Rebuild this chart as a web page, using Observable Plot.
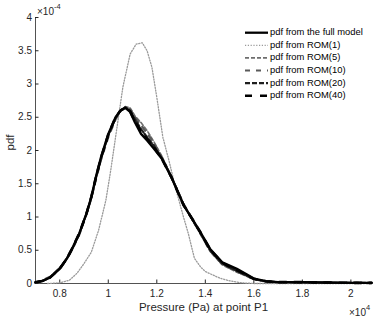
<!DOCTYPE html>
<html><head><meta charset="utf-8">
<script src="https://cdn.jsdelivr.net/npm/d3@7"></script>
<script src="https://cdn.jsdelivr.net/npm/@observablehq/plot@0.6"></script>
<style>body{margin:0;background:#fff}svg{font-family:"Liberation Sans",Arial,sans-serif}</style>
</head><body><div id="chart"></div>
<script>
const xTicks = [0.8, 1.0, 1.2, 1.4, 1.6, 1.8, 2.0];
const yTicks = [0, 0.5, 1, 1.5, 2, 2.5, 3, 3.5, 4];
const seriesNames = ["pdf from the full model","pdf from ROM(1)","pdf from ROM(5)","pdf from ROM(10)","pdf from ROM(20)","pdf from ROM(40)"];
const fullModel = [[0.70,0.02],[0.73,0.04],[0.76,0.09],[0.80,0.22],[0.83,0.38],[0.85,0.52],[0.88,0.75],[0.91,1.05],[0.93,1.3],[0.95,1.62],[0.97,1.9],[1.0,2.25],[1.03,2.5],[1.05,2.6],[1.07,2.64],[1.09,2.58],[1.11,2.42],[1.135,2.25],[1.16,2.15],[1.19,2.02],[1.22,1.88],[1.26,1.6],[1.31,1.18],[1.35,0.95],[1.38,0.77],[1.42,0.52],[1.47,0.32],[1.53,0.22],[1.57,0.14],[1.60,0.075],[1.65,0.035],[1.7,0.02],[1.8,0.02],[1.9,0.015],[2.0,0.01],[2.085,0.01]];
const rom1 = [[0.75,0],[0.80,0.01],[0.84,0.05],[0.87,0.15],[0.90,0.3],[0.93,0.47],[0.96,0.8],[0.99,1.25],[1.01,1.7],[1.03,2.2],[1.06,2.95],[1.09,3.45],[1.115,3.6],[1.14,3.62],[1.16,3.5],[1.18,3.25],[1.20,2.8],[1.225,2.2],[1.25,1.85],[1.28,1.4],[1.31,1.0],[1.33,0.75],[1.355,0.38],[1.38,0.25],[1.40,0.18],[1.43,0.13],[1.46,0.08],[1.5,0.04],[1.55,0.01],[1.6,0.0],[1.8,0.0],[2.085,0.0]];
const rom5 = [[0.70,0.01],[0.73,0.04],[0.76,0.1],[0.80,0.24],[0.83,0.38],[0.85,0.5],[0.88,0.74],[0.91,1.05],[0.93,1.3],[0.95,1.6],[0.97,1.88],[1.0,2.22],[1.03,2.48],[1.05,2.6],[1.07,2.66],[1.09,2.64],[1.11,2.52],[1.135,2.42],[1.16,2.3],[1.19,2.12],[1.22,1.92],[1.26,1.62],[1.31,1.2],[1.35,0.93],[1.38,0.74],[1.42,0.48],[1.47,0.28],[1.53,0.17],[1.57,0.11],[1.60,0.06],[1.65,0.03],[1.7,0.02],[1.8,0.015],[1.9,0.01],[2.0,0.01],[2.085,0.005]];
const rom10 = [[0.70,0.01],[0.73,0.05],[0.76,0.1],[0.80,0.23],[0.83,0.37],[0.85,0.5],[0.88,0.73],[0.91,1.04],[0.93,1.28],[0.95,1.58],[0.97,1.86],[1.0,2.2],[1.03,2.47],[1.05,2.59],[1.07,2.65],[1.09,2.62],[1.11,2.5],[1.135,2.38],[1.16,2.26],[1.19,2.1],[1.22,1.9],[1.26,1.6],[1.31,1.2],[1.35,0.94],[1.38,0.75],[1.42,0.49],[1.47,0.29],[1.53,0.18],[1.57,0.12],[1.60,0.065],[1.65,0.03],[1.7,0.02],[1.8,0.015],[1.9,0.01],[2.0,0.01],[2.085,0.005]];
const rom20 = [[0.70,0.015],[0.73,0.04],[0.76,0.09],[0.80,0.23],[0.83,0.38],[0.85,0.51],[0.88,0.74],[0.91,1.05],[0.93,1.29],[0.95,1.6],[0.97,1.88],[1.0,2.23],[1.03,2.49],[1.05,2.6],[1.07,2.65],[1.09,2.6],[1.11,2.47],[1.135,2.32],[1.16,2.2],[1.19,2.06],[1.22,1.89],[1.26,1.6],[1.31,1.19],[1.35,0.94],[1.38,0.76],[1.42,0.5],[1.47,0.3],[1.53,0.19],[1.57,0.12],[1.60,0.07],[1.65,0.03],[1.7,0.02],[1.8,0.018],[1.9,0.012],[2.0,0.01],[2.085,0.008]];
const rom40 = [[0.70,0.02],[0.73,0.04],[0.76,0.09],[0.80,0.22],[0.83,0.38],[0.85,0.52],[0.88,0.75],[0.91,1.05],[0.93,1.3],[0.95,1.61],[0.97,1.89],[1.0,2.24],[1.03,2.5],[1.05,2.6],[1.07,2.64],[1.09,2.59],[1.11,2.44],[1.135,2.28],[1.16,2.17],[1.19,2.04],[1.22,1.88],[1.26,1.6],[1.31,1.18],[1.35,0.95],[1.38,0.77],[1.42,0.51],[1.47,0.31],[1.53,0.2],[1.57,0.13],[1.60,0.07],[1.65,0.033],[1.7,0.02],[1.8,0.02],[1.9,0.015],[2.0,0.01],[2.085,0.01]];
const xDomain = [0.7, 2.085];
const yDomain = [0, 4];

const seriesData = [fullModel, rom1, rom5, rom10, rom20, rom40];
const styles = [
  {stroke:"#000", strokeWidth:2.3, dash:null},
  {stroke:"#9a9a9a", strokeWidth:1.3, dash:"1.2,1.6"},
  {stroke:"#6e6e6e", strokeWidth:1.6, dash:"4,2"},
  {stroke:"#5a5a5a", strokeWidth:2.2, dash:"5,6"},
  {stroke:"#1e1e1e", strokeWidth:2.2, dash:"5,2"},
  {stroke:"#000", strokeWidth:2.6, dash:"7,8"}
];
const drawOrder = [1,2,3,4,5,0];
const lineMarks = drawOrder.map(i => Plot.line(seriesData[i], {x: d=>d[0], y: d=>d[1], stroke: styles[i].stroke, strokeWidth: styles[i].strokeWidth, strokeDasharray: styles[i].dash, strokeLinejoin:"round"}));

const axisColor = "#262626";
const chart = Plot.plot({
  width: 374, height: 319,
  marginLeft: 35, marginRight: 3, marginTop: 17, marginBottom: 36,
  style: {fontFamily: '"Liberation Sans", Arial, sans-serif', fontSize: "10px", color: axisColor, background: "#fff"},
  x: {domain: xDomain},
  y: {domain: yDomain},
  marks: [
    Plot.axisX({ticks: xTicks, tickSize: -3.5, tickPadding: 10, tickFormat: d => d3.format("")(+d.toFixed(1)), label: null, fontSize: 10, stroke: axisColor}),
    Plot.axisY({ticks: yTicks, tickSize: -3.5, tickPadding: 7, tickFormat: d => String(d), label: null, fontSize: 10, stroke: axisColor}),
    Plot.ruleY([yDomain[0]], {stroke: axisColor, strokeWidth: 0.8}),
    Plot.ruleX([xDomain[0]], {stroke: axisColor, strokeWidth: 0.8}),
    ...lineMarks,
    Plot.text(["pdf"], {frameAnchor: "left", dx: -25, rotate: -90, fontSize: 11.5, fill: axisColor}),
    Plot.text(["Pressure (Pa) at point P1"], {frameAnchor: "bottom", dy: 27, fontSize: 11.5, fill: axisColor})
  ]
});
document.getElementById("chart").appendChild(chart);

// exponent labels and legend
const svg = d3.select(chart);
function expo(x, y, base, sup) {
  const t = svg.append("text").attr("x", x).attr("y", y).attr("fill", axisColor).attr("font-size", 10)
    .attr("text-anchor", "start").attr("dominant-baseline","middle");
  t.append("tspan").text(base);
  t.append("tspan").attr("font-size", 7.5).attr("dy", -5).text(sup);
}
expo(37, 12, "\u00d710", "-4");
expo(349, 313, "\u00d710", "4");

const lg = svg.append("g").attr("text-anchor", "start");
seriesNames.forEach((name, i) => {
  const y = 32.7 + i * 12.6;
  const s = styles[i];
  lg.append("line").attr("x1", 245).attr("x2", 268).attr("y1", y).attr("y2", y)
    .attr("stroke", s.stroke).attr("stroke-width", Math.min(s.strokeWidth, 2.4)).attr("stroke-dasharray", s.dash);
  lg.append("text").attr("x", 270).attr("y", y).attr("dominant-baseline","middle").attr("text-anchor", "start")
    .attr("font-size", 9.4).attr("fill", "#000").text(name);
});
</script></body></html>
